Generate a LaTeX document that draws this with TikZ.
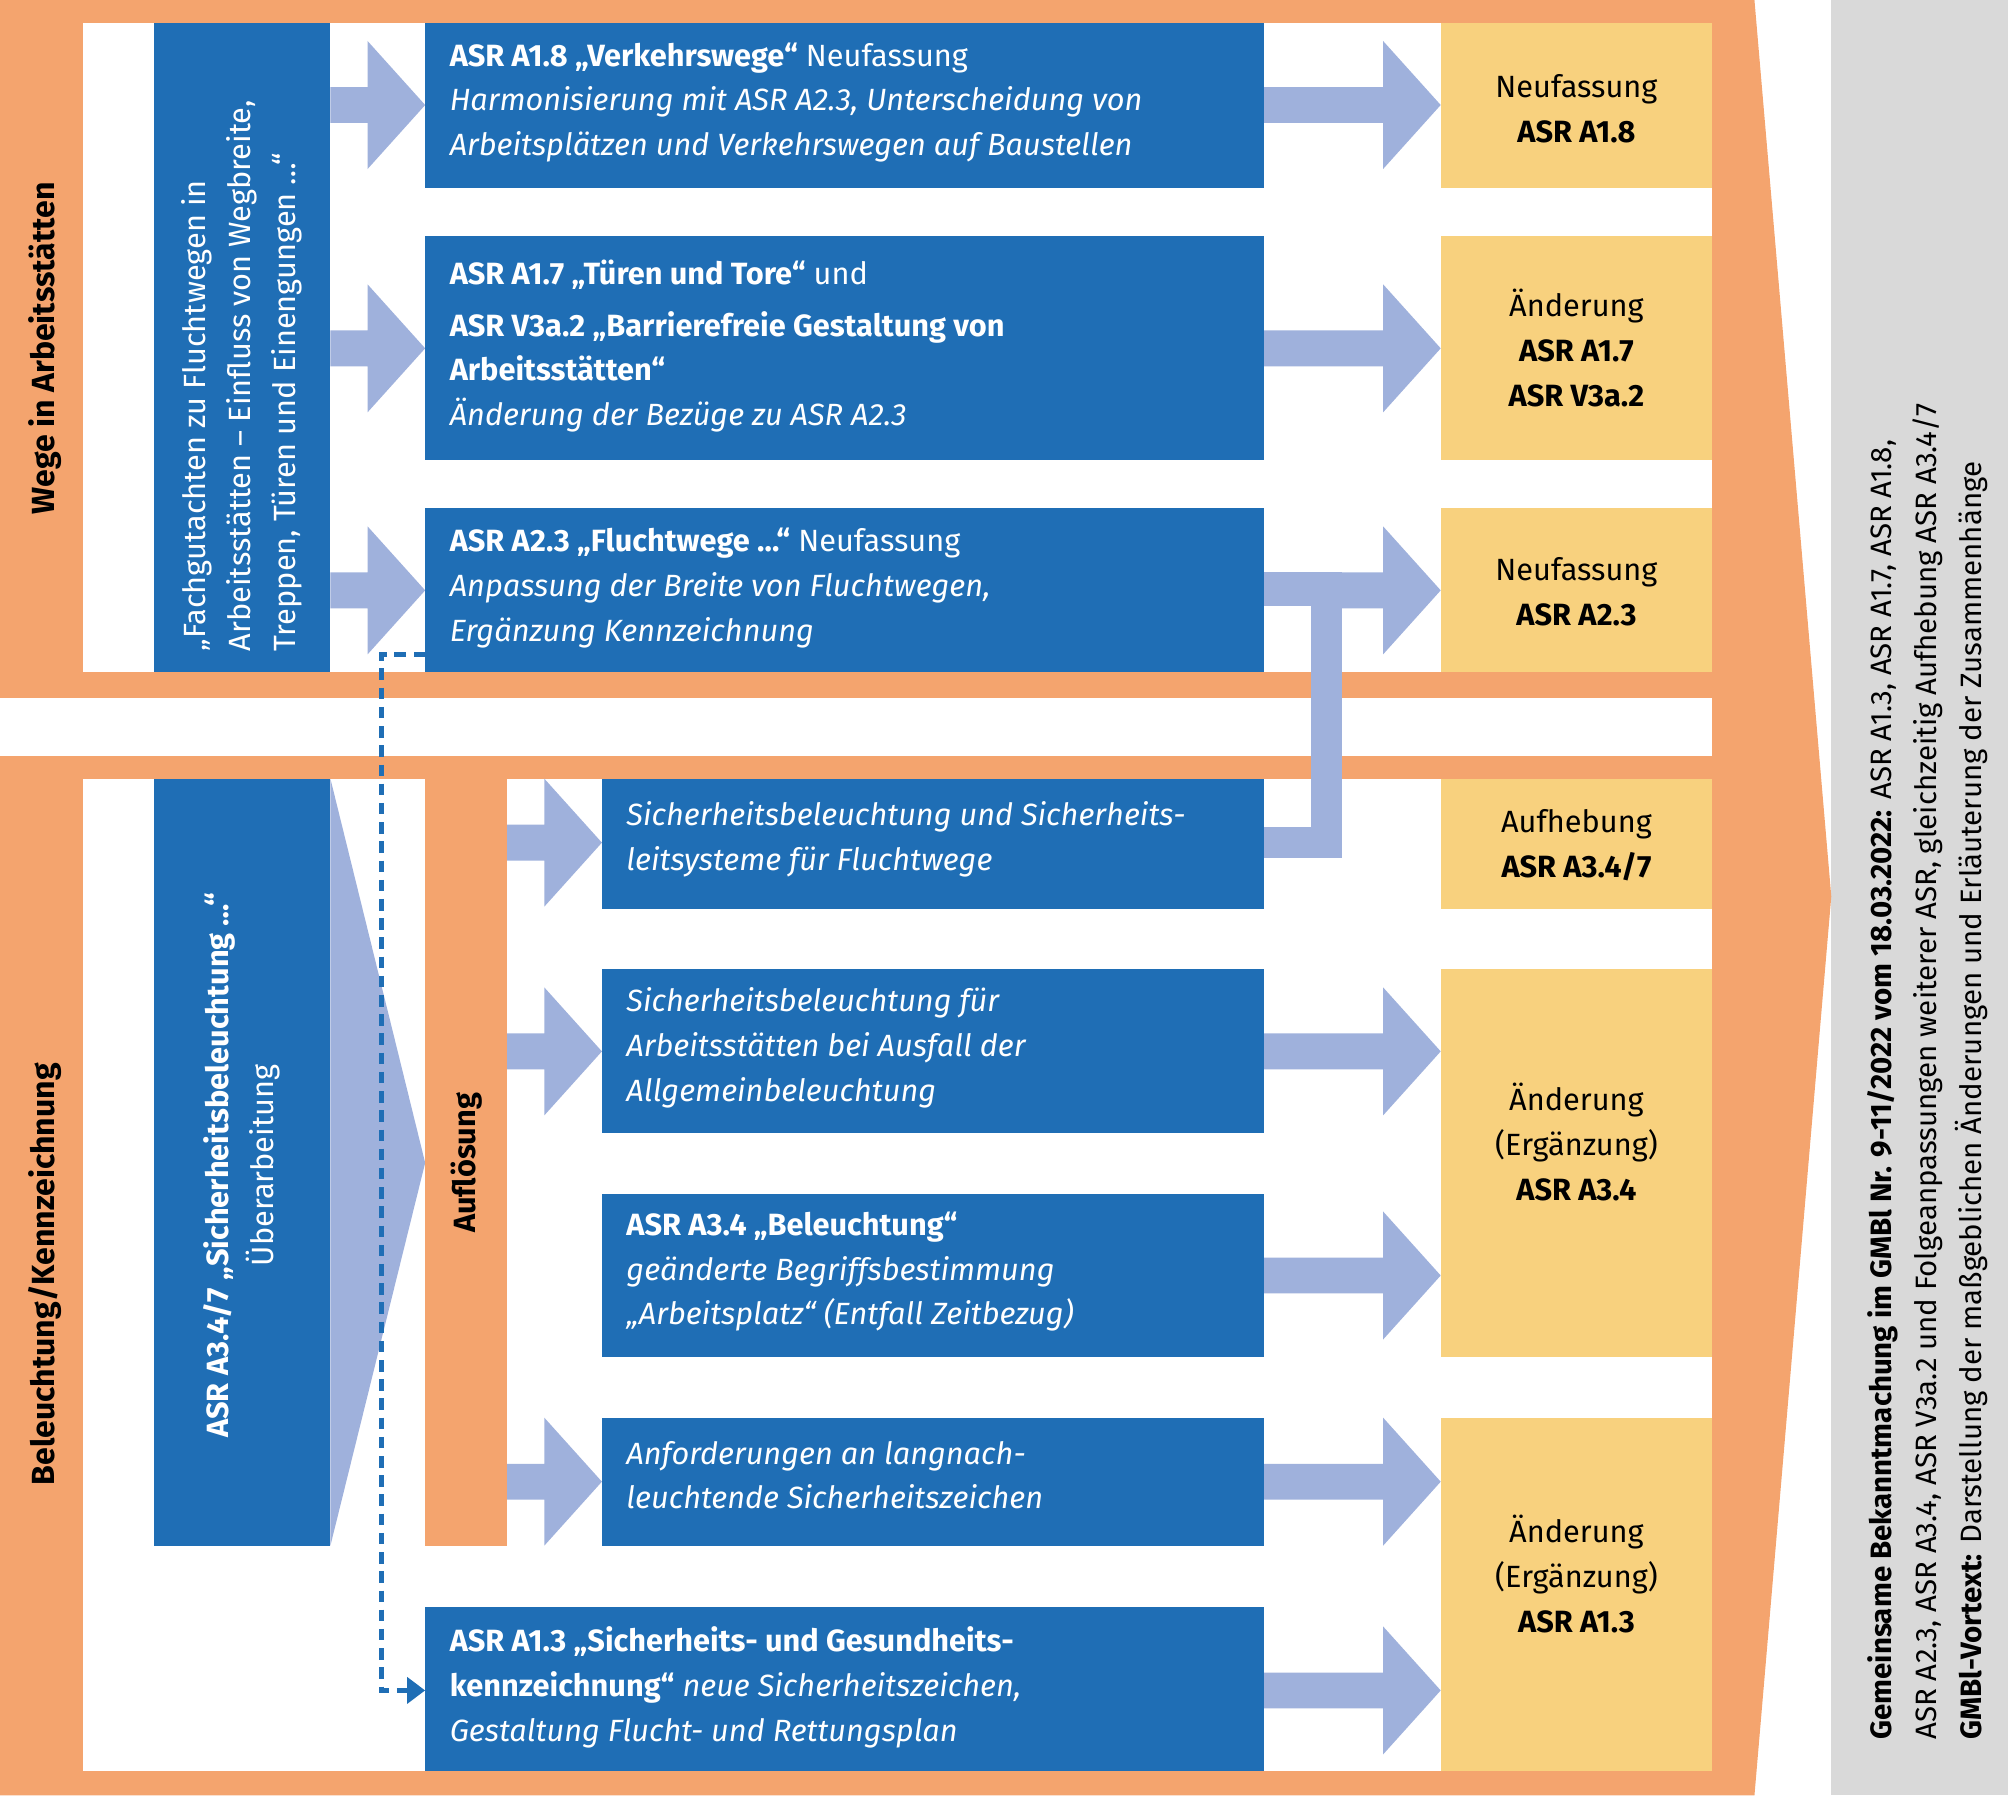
\documentclass[tikz,border=0pt]{standalone}
\usepackage{fontspec}
\setmainfont{Fira Sans}[Scale=1]
\usetikzlibrary{arrows.meta}
\definecolor{db}{HTML}{1F6EB5}
\definecolor{lb}{HTML}{9FB1DC}
\definecolor{og}{HTML}{F4A46E}
\definecolor{yl}{HTML}{F8D17E}
\definecolor{gy}{HTML}{D9D9D9}
\tikzset{
 fs/.style={font=\fontsize{24}{35}\selectfont},
 bt/.style={fs,text=white,anchor=north west,inner sep=0pt,align=left},
 yt/.style={fs,align=center,inner sep=0pt},
}
\newcommand{\fatR}[3]{% x1 x2 y : head 45 long
 \fill[lb] (#1,#3-14) -- ({#2-45},#3-14) -- ({#2-45},#3-50) -- (#2,#3) -- ({#2-45},#3+50) -- ({#2-45},#3+14) -- (#1,#3+14) -- cycle;}
\begin{document}
\begin{tikzpicture}[x=1pt,y=-1pt]
\useasboundingbox (0,0) rectangle (1568,1402);
% backgrounds
\fill[gy] (1430,0) rectangle (1568,1402);
\fill[og] (0,0) -- (1370,0) -- (1430,700) -- (1370,1402) -- (0,1402) -- cycle;
\fill[white] (0,545) rectangle (1337,590);
\fill[white] (65,18) rectangle (1337,525);
\fill[white] (65,608) rectangle (1337,1383);
% side labels
\node[fs,font=\fontsize{25}{35}\selectfont\bfseries,rotate=90] (lw) at (35,272) {Wege in Arbeitsstätten};
\node[fs,font=\fontsize{25}{35}\selectfont\bfseries,rotate=90] (lb) at (35,995) {Beleuchtung/Kennzeichnung};
% right text
\node[rotate=90,font=\fontsize{23}{35}\selectfont,align=left,anchor=west] (rt) at (1505,1362)
 {\textbf{Gemeinsame Bekanntmachung im GMBl Nr. 9-11/2022 vom 18.03.2022:} ASR A1.3, ASR A1.7, ASR A1.8,\\
 ASR A2.3, ASR A3.4, ASR V3a.2 und Folgeanpassungen weiterer ASR, gleichzeitig Aufhebung ASR A3.4/7\\
 \textbf{GMBl-Vortext:} Darstellung der maßgeblichen Änderungen und Erläuterung der Zusammenhänge};
% top vertical
\fill[db] (120,18) rectangle (258,525);
\node[rotate=90,fs,text=white,align=left,anchor=west] (fg) at (189,512)
 {„Fachgutachten zu Fluchtwegen in\\Arbeitsstätten – Einfluss von Wegbreite,\\Treppen, Türen und Einengungen …“};
% fat arrows left top
\fatR{258}{332}{82}
\fatR{258}{332}{272}
\fatR{258}{332}{461}
% A2.3 branch
\fill[lb] (987,447) rectangle (1048,473);
\fill[lb] (1024,447) rectangle (1048,670);
\fill[lb] (987,646) rectangle (1048,670);
% right arrows
\fatR{987}{1125}{82}
\fatR{987}{1125}{272}
\fatR{1030}{1125}{461}
\fatR{987}{1125}{821}
\fatR{987}{1125}{996}
\fatR{987}{1125}{1157}
\fatR{987}{1125}{1320}
% top blue boxes
\fill[db] (332,18) rectangle (987,147);
\node[bt] (b1) at (351,33) {\textbf{ASR A1.8 „Verkehrswege“} Neufassung\\\itshape Harmonisierung mit ASR A2.3, Unterscheidung von\\\itshape Arbeitsplätzen und Verkehrswegen auf Baustellen};
\fill[db] (332,184) rectangle (987,359);
\node[bt] (b2) at (351,203) {\textbf{ASR A1.7 „Türen und Tore“} und\\[5pt]\textbf{ASR V3a.2 „Barrierefreie Gestaltung von}\\\textbf{Arbeitsstätten“}\\\itshape Änderung der Bezüge zu ASR A2.3};
\fill[db] (332,397) rectangle (987,525);
\node[bt] (b3) at (351,412) {\textbf{ASR A2.3 „Fluchtwege …“} Neufassung\\\itshape Anpassung der Breite von Fluchtwegen,\\\itshape Ergänzung Kennzeichnung};
% yellow
\fill[yl] (1125,18) rectangle (1337,147);
\node[yt] (y1) at (1231,85) {Neufassung\\\textbf{ASR A1.8}};
\fill[yl] (1125,184) rectangle (1337,359);
\node[yt] (y2) at (1231,272) {Änderung\\\textbf{ASR A1.7}\\\textbf{ASR V3a.2}};
\fill[yl] (1125,397) rectangle (1337,525);
\node[yt] (y3) at (1231,462) {Neufassung\\\textbf{ASR A2.3}};
\fill[yl] (1125,608) rectangle (1337,710);
\node[yt] (y4) at (1231,660) {Aufhebung\\\textbf{ASR A3.4/7}};
\fill[yl] (1125,757) rectangle (1337,1060);
\node[yt] (y5) at (1231,892) {Änderung\\(Ergänzung)\\\textbf{ASR A3.4}};
\fill[yl] (1125,1107) rectangle (1337,1383);
\node[yt] (y6) at (1231,1229) {Änderung\\(Ergänzung)\\\textbf{ASR A1.3}};
% bottom left
\fill[lb] (258,608) -- (332,908) -- (258,1207) -- cycle;
\fill[db] (120,608) rectangle (258,1207);
\node[rotate=90,fs,text=white,align=center] (s7) at (189,910) {\textbf{ASR A3.4/7 „Sicherheitsbeleuchtung …“}\\Überarbeitung};
\fill[og] (332,608) rectangle (396,1207);
\node[rotate=90,fs,font=\fontsize{24}{35}\selectfont\bfseries] (af) at (364,908) {Auflösung};
\fatR{396}{470}{658}
\fatR{396}{470}{821}
\fatR{396}{470}{1157}
% bottom blue boxes
\fill[db] (470,608) rectangle (987,710);
\node[bt] (c1) at (489,626) {\itshape Sicherheitsbeleuchtung und Sicherheits-\\\itshape leitsysteme für Fluchtwege};
\fill[db] (470,757) rectangle (987,885);
\node[bt] (c2) at (489,771) {\itshape Sicherheitsbeleuchtung für\\\itshape Arbeitsstätten bei Ausfall der\\\itshape Allgemeinbeleuchtung};
\fill[db] (470,932) rectangle (987,1060);
\node[bt] (c3) at (489,946) {\textbf{ASR A3.4 „Beleuchtung“}\\\itshape geänderte Begriffsbestimmung\\\itshape „Arbeitsplatz“ (Entfall Zeitbezug)};
\fill[db] (470,1107) rectangle (987,1207);
\node[bt] (c4) at (489,1125) {\itshape Anforderungen an langnach-\\\itshape leuchtende Sicherheitszeichen};
\fill[db] (332,1255) rectangle (987,1383);
\node[bt] (c5) at (351,1270) {\textbf{ASR A1.3 „Sicherheits- und Gesundheits-}\\\textbf{kennzeichnung“} \itshape neue Sicherheitszeichen,\\\itshape Gestaltung Flucht- und Rettungsplan};
% dashed connector
\coordinate (d0) at (332,511);
\coordinate (d1) at (332,1320);
\draw[db,line width=3.5pt,dash pattern=on 9pt off 6pt,-{Triangle[length=14pt,width=20pt]}] (d0) -- (298,511) -- (298,1320) -- (d1);
\end{tikzpicture}
\end{document}
